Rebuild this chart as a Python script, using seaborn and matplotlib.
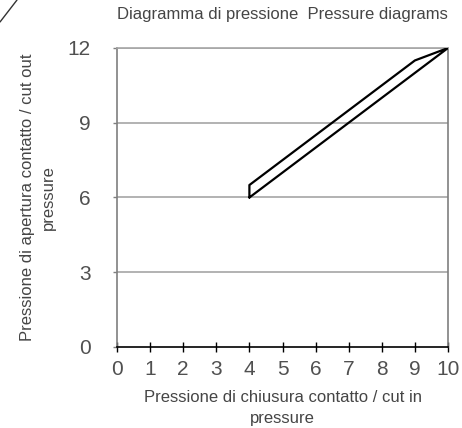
import matplotlib
matplotlib.use("Agg")
import matplotlib.pyplot as plt
from matplotlib.lines import Line2D
import seaborn as sns
import pandas as pd

# Data: pressure band outline (cut in vs cut out)
cut_in = [4, 4, 9, 10, 4]
cut_out = [6, 6.5, 11.5, 12, 6]
x_ticks = [0, 1, 2, 3, 4, 5, 6, 7, 8, 9, 10]
y_ticks = [0, 3, 6, 9, 12]
title = "Diagramma di pressione  Pressure diagrams"
x_label = "Pressione di chiusura contatto / cut in\npressure"
y_label = "Pressione di apertura contatto / cut out\npressure"

sns.set_theme(style="white")
plt.rcParams['font.family'] = ['Liberation Sans', 'DejaVu Sans']

TXT = "#454545"
fig = plt.figure(figsize=(4.62, 4.28), dpi=100)
ax = fig.add_axes([117/462, 1-347/428, (448-117)/462, (347-48)/428])

df = pd.DataFrame({"cut_in": cut_in, "cut_out": cut_out})
sns.lineplot(data=df, x="cut_in", y="cut_out", sort=False, estimator=None,
             color="black", linewidth=1.6, ax=ax, zorder=3)

ax.set_xlim(0, 10)
ax.set_ylim(0, 12)
ax.set_xticks(x_ticks)
ax.set_yticks(y_ticks)
for yv in y_ticks[1:]:
    ax.axhline(yv, color="#a6a6a6", linewidth=1.2, zorder=1)

for s in ["left", "right", "top"]:
    ax.spines[s].set_color("#7f7f7f")
    ax.spines[s].set_linewidth(1.2)
ax.spines["top"].set_color("#a6a6a6")
ax.spines["bottom"].set_color("black")
ax.spines["bottom"].set_linewidth(1.2)

ax.tick_params(axis="x", direction="inout", length=7, width=1, color="black",
               labelsize=15, labelcolor="#505050", pad=6, bottom=True)
ax.tick_params(axis="y", direction="out", length=3, width=1, color="#7f7f7f",
               labelsize=15, labelcolor="#505050", pad=16, left=True)

ax.set_xlabel(x_label, fontsize=12, color=TXT, labelpad=8, linespacing=1.5)
ax.set_ylabel(y_label, fontsize=12, color=TXT, labelpad=8, linespacing=1.5)
fig.text(282/462, 1-14/428, title, ha="center", va="center", fontsize=12, color=TXT)

fig.add_artist(Line2D([0, 17/462], [1-22/428, 1.0], color="#333333", linewidth=1))

fig.savefig("out.png", dpi=100)
